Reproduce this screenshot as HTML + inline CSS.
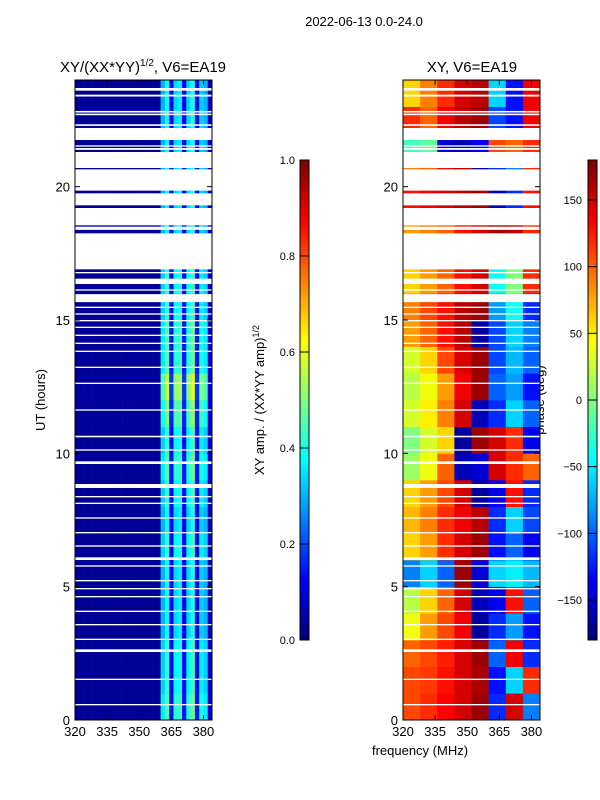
<!DOCTYPE html>
<html><head><meta charset="utf-8"><style>
body{margin:0;background:#fff;}
svg{display:block;font-family:"Liberation Sans",sans-serif;}
</style></head><body>
<svg id="fig" width="600" height="800" viewBox="0 0 600 800" xmlns="http://www.w3.org/2000/svg">
<text x="364" y="26" font-size="13" text-anchor="middle">2022-06-13 0.0-24.0</text>
<text x="143" y="72" font-size="15" text-anchor="middle">XY/(XX*YY)<tspan font-size="10" dy="-6">1/2</tspan><tspan dy="6">, V6=EA19</tspan></text>
<text x="472" y="72" font-size="15" text-anchor="middle">XY, V6=EA19</text>
<text transform="translate(45,400) rotate(-90)" font-size="13" text-anchor="middle">UT (hours)</text>
<text transform="translate(264,400) rotate(-90)" font-size="13" text-anchor="middle">XY amp. / (XX*YY amp)<tspan font-size="9" dy="-5">1/2</tspan></text>
<text transform="translate(544,400) rotate(-90)" font-size="13" text-anchor="middle">phase (deg)</text>
<text x="420" y="755" font-size="13" text-anchor="middle">frequency (MHz)</text>
<g id="g"></g>
</svg>
<script>
// ---- data ----
const hourTicks=[0,5,10,15,20];
const freqTicks=[320,335,350,365,380];
const ampTicks=[0.0,0.2,0.4,0.6,0.8,1.0];
const phaseTicks=[-150,-100,-50,0,50,100,150];
// amplitude per 2-MHz channel (320..384)
const ampCols=[0.02,0.02,0.02,0.02,0.02,0.02,0.02,0.02,0.02,0.02,0.02,0.02,0.02,0.02,0.02,0.02,0.02,0.02,0.02,0.02,0.3,0.38,0.12,0.34,0.36,0.12,0.34,0.4,0.12,0.33,0.3,0.06];
// per-hour amplitude scale
const ampRowScale=[1.2,1.1,1.1,1.0,1.0,1.0,1.1,1.0,1.1,1.2,1.1,1.3,1.5,1.2,1.2,1.1,1.1,1.0,1.0,1.0,1.0,1.0,1.0,1.0];
// phase (deg) per hour (rows) x 8-MHz band (cols)
const phase=[
[110,120,135,150,170,-120,150,-90],
[110,115,130,150,165,-130,-60,120],
[100,110,125,150,170,-100,140,-120],
[40,80,110,140,-170,-120,-80,-130],
[20,60,100,150,-160,-140,130,-100],
[-90,-60,-100,170,-150,-60,-50,-70],
[60,80,120,150,170,-130,-100,-140],
[70,90,120,140,160,-120,-60,-110],
[60,80,110,150,-170,-140,130,-120],
[10,40,100,-160,-150,150,120,100],
[0,30,60,-170,170,150,120,-140],
[30,50,90,150,-160,-120,-60,-100],
[20,40,80,140,170,-100,-80,-130],
[30,60,110,150,170,-110,-70,-100],
[80,100,130,160,-170,-110,-60,-90],
[90,110,130,160,170,-80,-40,-120],
[60,80,100,130,150,-40,0,120],
[90,100,110,130,140,150,160,170],
[80,90,100,130,150,170,160,120],
[130,140,150,160,170,-160,-120,130],
[90,100,140,160,-170,-120,-90,120],
[-20,-10,-150,-160,-140,110,100,120],
[120,100,140,160,170,-110,-130,140],
[60,90,120,150,160,-60,-130,140]];
// missing-data intervals (hours)
const gaps=[[23.6,23.7],[23.38,23.45],[22.78,22.84],[22.68,22.74],[22.28,22.34],[21.75,22.2],[21.5,21.55],[21.38,21.45],[20.7,21.3],[19.85,20.65],[19.3,19.75],[18.55,19.2],[18.38,18.5],[16.9,18.25],[16.75,16.8],[16.35,16.55],[16.1,16.15],[15.67,15.97],[15.45,15.5],[15.2,15.25],[14.95,15.0],[14.7,14.75],[14.4,14.45],[14.1,14.15],[13.8,13.85],[13.2,13.25],[12.6,12.65],[11.6,11.65],[10.6,10.66],[10.1,10.15],[9.6,9.7],[8.7,8.85],[8.35,8.4],[8.1,8.15],[7.55,7.6],[7.0,7.05],[6.5,6.55],[6.0,6.1],[5.75,5.8],[5.2,5.25],[4.9,4.95],[4.6,4.65],[4.05,4.1],[3.55,3.6],[3.0,3.05],[2.55,2.65],[1.5,1.55],[0.55,0.6]];

// ---- drawing ----
const NS="http://www.w3.org/2000/svg";
const g=document.getElementById('g');
function el(t,a,p){const e=document.createElementNS(NS,t);for(const k in a)e.setAttribute(k,a[k]);(p||g).appendChild(e);return e;}
function jet(v){v=Math.max(0,Math.min(1,v));
 const r=Math.max(0,Math.min(1,1.5-Math.abs(4*v-3))),gg=Math.max(0,Math.min(1,1.5-Math.abs(4*v-2))),b=Math.max(0,Math.min(1,1.5-Math.abs(4*v-1)));
 return `rgb(${Math.round(r*255)},${Math.round(gg*255)},${Math.round(b*255)})`;}
const T=80,B=720;
const yH=h=>B-(h/24)*(B-T);
const F0=320,F1=384,W=137;
function panel(L,kind){
 const xF=f=>L+(f-F0)/(F1-F0)*W;
 const grp=el('g',{});
 
 
 for(let h=0;h<24;h+=0.25){
  for(let c=0;c<32;c++){
   const f=F0+c*2;let col;
   if(kind==='amp'){col=jet(ampCols[c]*ampRowScale[Math.floor(h)]);}
   else{col=jet((phase[Math.floor(h)][Math.floor(c/4)]+180)/360);}
   const r=el('rect',{x:xF(f),y:yH(h+0.25),width:xF(f+2)-xF(f)+0.3,height:yH(h)-yH(h+0.25)+0.3,fill:col},grp);
   
   
  }
 }
 for(const [a,b] of gaps){
  const r=el('rect',{x:L,y:yH(b),width:W,height:Math.max(1.2,yH(a)-yH(b)),fill:'#fff'},grp);
  
  
 }
 const fr=el('rect',{x:L,y:T,width:W,height:B-T,fill:'none',stroke:'#000','stroke-width':1});
 
 
 for(const h of hourTicks){
  const y=yH(h);
  el('line',{x1:L,x2:L+5,y1:y,y2:y,stroke:'#000'});
  el('line',{x1:L+W-5,x2:L+W,y1:y,y2:y,stroke:'#000'});
  const t=el('text',{x:L-5,y:y+5,'font-size':13,'text-anchor':'end'});t.textContent=h;
  
  
 }
 for(const f of freqTicks){
  const x=xF(f);
  el('line',{x1:x,x2:x,y1:B,y2:B-5,stroke:'#000'});
  el('line',{x1:x,x2:x,y1:T,y2:T+5,stroke:'#000'});
  const t=el('text',{x:x,y:B+16,'font-size':13,'text-anchor':'middle'});t.textContent=f;
  
  
 }
}
panel(75,'amp');
panel(403,'phase');
function cbar(L,lo,hi,ticks,kind){
 const CT=160,CB=640,CW=9;
 const yv=v=>CB-(v-lo)/(hi-lo)*(CB-CT);
 const grp=el('g',{});
 
 
 const N=120;
 for(let i=0;i<N;i++){
  const v0=lo+(hi-lo)*i/N,v1=lo+(hi-lo)*(i+1)/N;
  el('rect',{x:L,y:yv(v1),width:CW,height:yv(v0)-yv(v1)+0.5,fill:jet(i/(N-1))},grp);
 }
 el('rect',{x:L,y:CT,width:CW,height:CB-CT,fill:'none',stroke:'#000'},grp);
 for(const v of ticks){
  const y=yv(v);
  el('line',{x1:L,x2:L+CW,y1:y,y2:y,stroke:'#000'},grp);
  const t=el('text',{x:kind==='amp'?L-5:L-6,y:y+4,'font-size':11,'text-anchor':'end'},grp);
  t.textContent=kind==='amp'?v.toFixed(1):(v<0?'\u2212'+(-v):v);
  
  
 }
}
cbar(300,0,1,ampTicks,'amp');
cbar(588,-180,180,phaseTicks,'phase');
</script>
</body></html>
